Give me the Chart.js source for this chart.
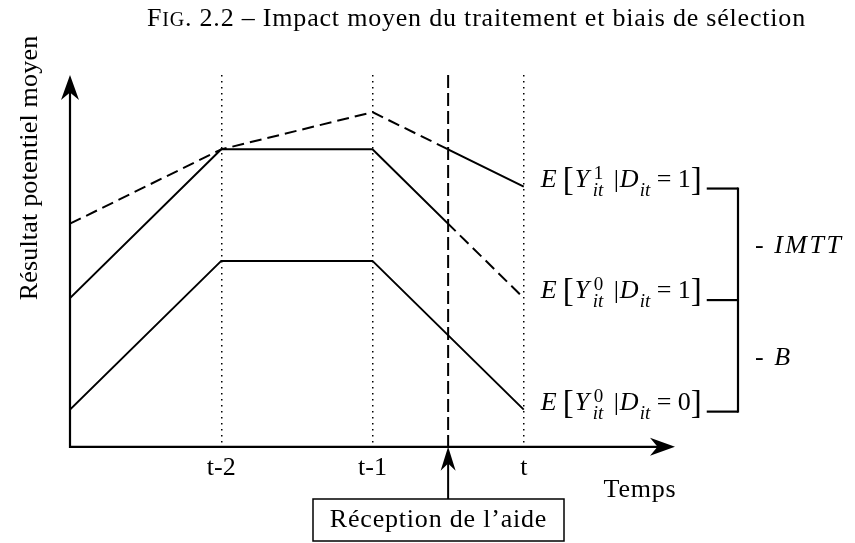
<!DOCTYPE html>
<html>
<head>
<meta charset="utf-8">
<script src="https://cdn.jsdelivr.net/npm/chart.js@4.4.0/dist/chart.umd.min.js"></script>
<style>
  html, body { margin: 0; padding: 0; background: #fff; }
</style>
</head>
<body>
<canvas id="chart" width="855" height="543"></canvas>
<script>
// periods on the x axis (0 = t-3, 3 = t), the aid arrives half-way between t-1 and t
const periods = [0, 1, 2, 3];
const tickLabels = ['', 't-2', 't-1', 't', ''];
const treatedWithAid = [6, 8, 9, 7];     // E[Y1 | D=1]
const treatedWithoutAid = [4, 8, 8, 4];  // E[Y0 | D=1]
const controlWithoutAid = [1, 5, 5, 1];  // E[Y0 | D=0]
const treatmentTime = 2.5;

const SERIF = '"Liberation Serif", serif';

function points(values) {
  return periods.map((p, i) => ({ x: p, y: values[i] }));
}

function lineSet(values, dashed, span) {
  return {
    data: points(values),
    borderColor: '#000',
    borderWidth: 2,
    borderDash: dashed ? [12, 6] : [],
    pointRadius: 0,
    tension: 0,
    fill: false,
    span: span
  };
}

function arrowHead(ctx, x, y, angle, len, width) {
  ctx.save();
  ctx.translate(x, y);
  ctx.rotate(angle);
  ctx.beginPath();
  ctx.moveTo(0, 0);
  ctx.lineTo(-len, width / 2);
  ctx.lineTo(-len * 0.7, 0);
  ctx.lineTo(-len, -width / 2);
  ctx.closePath();
  ctx.fill();
  ctx.restore();
}

// draws E[Y^sup_it | D_it = d] and returns the x where it ends
function drawExpectation(ctx, x, y, sup, d) {
  const big = '26px ' + SERIF, it = 'italic 26px ' + SERIF;
  const small = '19px ' + SERIF, smallIt = 'italic 19px ' + SERIF;
  const brack = '33px ' + SERIF;
  ctx.textBaseline = 'alphabetic';
  ctx.textAlign = 'left';
  const parts = [
    ['E', it, 0, 0],
    ['[', brack, 3, 22],
    ['Y', it, 0, 34],
    [sup, small, -8, 53],
    ['it', smallIt, 9, 52],
    ['|', big, 0, 73],
    ['D', it, 0, 79],
    ['it', smallIt, 9, 99],
    ['=', big, 0, 116],
    [d, big, 0, 137],
    [']', brack, 3, 150]
  ];
  let end = x;
  parts.forEach(([txt, font, dy, dx]) => {
    ctx.font = font;
    ctx.fillText(txt, x + dx, y + dy);
    end = Math.max(end, x + dx + ctx.measureText(txt).width);
  });
  return end;
}

const annotations = {
  id: 'annotations',
  beforeDatasetDraw(chart, args) {
    const ds = chart.data.datasets[args.index];
    if (!ds.span) return;
    const xs = chart.scales.x;
    const a = xs.getPixelForValue(ds.span[0]);
    const b = xs.getPixelForValue(ds.span[1]);
    chart.ctx.save();
    chart.ctx.beginPath();
    chart.ctx.rect(a, 0, b - a, chart.height);
    chart.ctx.clip();
  },
  afterDatasetDraw(chart, args) {
    const ds = chart.data.datasets[args.index];
    if (!ds.span) return;
    chart.ctx.restore();
  },
  afterDraw(chart) {
    const ctx = chart.ctx;
    const area = chart.chartArea;
    const xs = chart.scales.x, ys = chart.scales.y;
    ctx.save();
    ctx.fillStyle = '#000';
    ctx.strokeStyle = '#000';

    // axes with arrows
    ctx.lineWidth = 2.2;
    ctx.setLineDash([]);
    ctx.beginPath();
    ctx.moveTo(area.left, area.top + 10);
    ctx.lineTo(area.left, area.bottom);
    ctx.lineTo(area.right - 10, area.bottom);
    ctx.stroke();
    arrowHead(ctx, area.left, area.top, -Math.PI / 2, 25, 18);
    arrowHead(ctx, area.right, area.bottom, 0, 25, 18);

    // reception of the aid
    const xt = xs.getPixelForValue(treatmentTime);
    ctx.lineWidth = 2;
    ctx.setLineDash([13, 5]);
    ctx.beginPath();
    ctx.moveTo(xt, area.top);
    ctx.lineTo(xt, area.bottom);
    ctx.stroke();
    ctx.setLineDash([]);
    ctx.beginPath();
    ctx.moveTo(xt, 499);
    ctx.lineTo(xt, area.bottom + 10);
    ctx.stroke();
    arrowHead(ctx, xt, area.bottom, -Math.PI / 2, 24, 15);
    ctx.lineWidth = 1.5;
    ctx.strokeRect(313, 499, 251, 42);
    ctx.letterSpacing = '0.8px';
    ctx.font = '26px ' + SERIF;
    ctx.textAlign = 'center';
    ctx.textBaseline = 'middle';
    ctx.fillText('Réception de l\u2019aide', 438.5, 520);

    // axis titles
    ctx.fillText('Temps', 640, 490);
    ctx.letterSpacing = '0.2px';
    ctx.save();
    ctx.translate(30, 168);
    ctx.rotate(-Math.PI / 2);
    ctx.fillText('Résultat potentiel moyen', 0, 0);
    ctx.restore();

    // figure title
    ctx.letterSpacing = '0.8px';
    ctx.textAlign = 'left';
    ctx.textBaseline = 'alphabetic';
    let tx = 147;
    ctx.font = '26px ' + SERIF;
    ctx.fillText('F', tx, 26);
    tx += ctx.measureText('F').width;
    ctx.font = '20px ' + SERIF;
    ctx.fillText('IG', tx, 26);
    tx += ctx.measureText('IG').width;
    ctx.font = '26px ' + SERIF;
    ctx.fillText('. 2.2 \u2013 Impact moyen du traitement et biais de sélection', tx, 26);
    ctx.letterSpacing = '0px';

    // end labels and the brace joining them
    const xEnd = xs.getPixelForValue(periods[periods.length - 1]) + 17;
    const ends = [
      [treatedWithAid[3], '1', '1'],
      [treatedWithoutAid[3], '0', '1'],
      [controlWithoutAid[3], '0', '0']
    ];
    const braceX = 738;
    const levels = [];
    ends.forEach(([v, sup, d]) => {
      const y = ys.getPixelForValue(v);
      const right = drawExpectation(ctx, xEnd, y, sup, d);
      levels.push(y + 2);
      ctx.lineWidth = 2.2;
      ctx.beginPath();
      ctx.moveTo(right + 5, y + 2);
      ctx.lineTo(braceX, y + 2);
      ctx.stroke();
    });
    ctx.beginPath();
    ctx.moveTo(braceX, levels[0] - 1);
    ctx.lineTo(braceX, levels[2] + 1);
    ctx.stroke();

    ctx.font = '26px ' + SERIF;
    const w = ctx.measureText('- ').width + 4;
    ctx.fillText('-', 755, (levels[0] + levels[1]) / 2 + 9);
    ctx.fillText('-', 755, (levels[1] + levels[2]) / 2 + 9);
    ctx.font = 'italic 26px ' + SERIF;
    ctx.letterSpacing = '2.5px';
    ctx.fillText('IMTT', 755 + w, (levels[0] + levels[1]) / 2 + 9);
    ctx.letterSpacing = '0px';
    ctx.fillText('B', 755 + w, (levels[1] + levels[2]) / 2 + 9);

    ctx.restore();
  }
};

new Chart(document.getElementById('chart'), {
  type: 'line',
  data: {
    datasets: [
      lineSet(treatedWithAid, true, [-1, treatmentTime]),
      lineSet(treatedWithAid, false, [treatmentTime, 5]),
      lineSet(treatedWithoutAid, false, [-1, treatmentTime]),
      lineSet(treatedWithoutAid, true, [treatmentTime, 5]),
      lineSet(controlWithoutAid, false, null)
    ]
  },
  options: {
    responsive: false,
    animation: false,
    events: [],
    layout: { padding: { left: 70, right: 180, top: 75, bottom: 53 } },
    plugins: { legend: { display: false }, title: { display: false }, tooltip: { enabled: false } },
    scales: {
      x: {
        type: 'linear',
        min: 0,
        max: 4,
        ticks: {
          stepSize: 1,
          autoSkip: false,
          maxRotation: 0,
          padding: 6,
          color: '#000',
          font: { family: SERIF, size: 26 },
          callback: (v) => tickLabels[v]
        },
        grid: {
          drawTicks: false,
          lineWidth: 1.5,
          color: (c) => (c.tick && c.tick.value >= 1 && c.tick.value <= 3) ? '#000' : 'rgba(0,0,0,0)'
        },
        border: { display: false, dash: [1.5, 4.5] }
      },
      y: { display: false, min: 0, max: 10 }
    }
  },
  plugins: [annotations]
});
</script>
</body>
</html>
